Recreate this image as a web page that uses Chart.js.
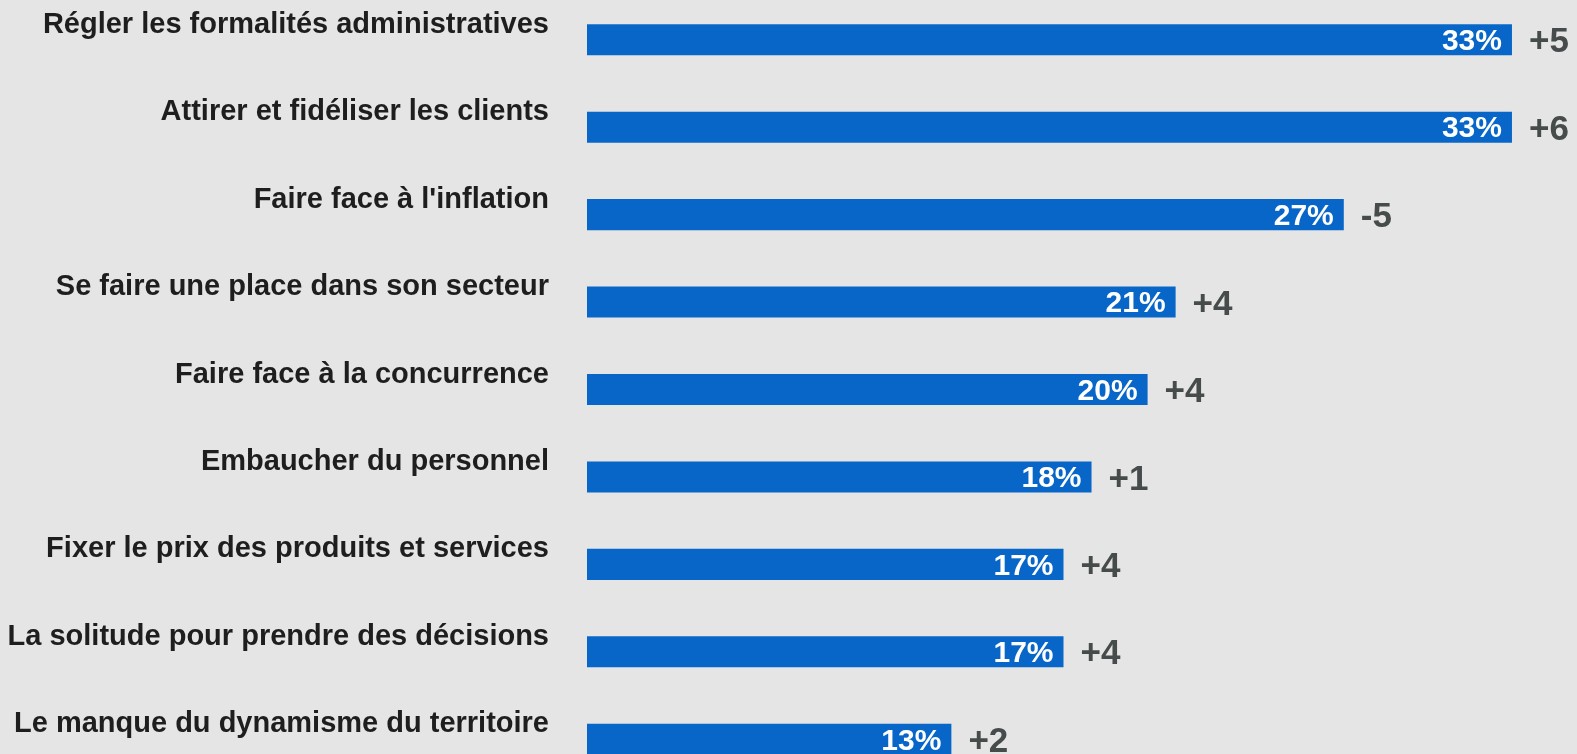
<!DOCTYPE html>
<html lang="fr">
<head>
<meta charset="utf-8">
<script src="https://cdn.jsdelivr.net/npm/chart.js@4"></script>
<style>
  html, body { margin: 0; padding: 0; background: #e5e5e5; overflow: hidden; }
  #wrap { position: absolute; left: 0; top: -4px; width: 1577px; height: 787px; }
</style>
</head>
<body>
<div id="wrap"><canvas id="chart" width="1577" height="787"></canvas></div>
<script>
// --------------------
// Data
// --------------------
const categories = [
  "Régler les formalités administratives",
  "Attirer et fidéliser les clients",
  "Faire face à l'inflation",
  "Se faire une place dans son secteur",
  "Faire face à la concurrence",
  "Embaucher du personnel",
  "Fixer le prix des produits et services",
  "La solitude pour prendre des décisions",
  "Le manque du dynamisme du territoire"
];
const shares = [33, 33, 27, 21, 20, 18, 17, 17, 13];
const changes = ["+5", "+6", "-5", "+4", "+4", "+1", "+4", "+4", "+2"];

const labelFont = "'Liberation Sans', Arial, sans-serif";

// --------------------
// Labels on bars
// --------------------
const barLabels = {
  id: "barLabels",
  afterDatasetsDraw(chart) {
    const ctx = chart.ctx;
    const meta = chart.getDatasetMeta(0);
    ctx.save();
    ctx.textBaseline = "middle";
    meta.data.forEach((bar, i) => {
      // value inside the bar end
      ctx.font = "bold 30px " + labelFont;
      ctx.fillStyle = "#ffffff";
      ctx.textAlign = "right";
      ctx.fillText(shares[i] + "%", bar.x - 10, bar.y + 2);
      // change next to the bar
      ctx.font = "bold 35px " + labelFont;
      ctx.fillStyle = "#464b4b";
      ctx.textAlign = "left";
      ctx.fillText(changes[i], bar.x + 17, bar.y + 3);
    });
    ctx.restore();
  }
};

new Chart(document.getElementById("chart"), {
  type: "bar",
  data: {
    labels: categories,
    datasets: [{
      data: shares,
      backgroundColor: "#0866c8",
      borderWidth: 0,
      categoryPercentage: 1,
      barPercentage: 0.355
    }]
  },
  options: {
    indexAxis: "y",
    responsive: false,
    animation: false,
    layout: { padding: 0 },
    plugins: {
      legend: { display: false },
      tooltip: { enabled: false }
    },
    scales: {
      x: {
        display: false,
        min: 0,
        max: 35.32
      },
      y: {
        afterFit(scale) {
          scale.width = 587;
          scale.paddingTop = 0;
          scale.paddingBottom = 0;
        },
        grid: { display: false },
        border: { display: false },
        ticks: {
          padding: 30,
          labelOffset: -15,
          color: "#1e1e1e",
          font: { family: labelFont, weight: "bold", size: 29 }
        }
      }
    }
  },
  plugins: [barLabels]
});
</script>
</body>
</html>
